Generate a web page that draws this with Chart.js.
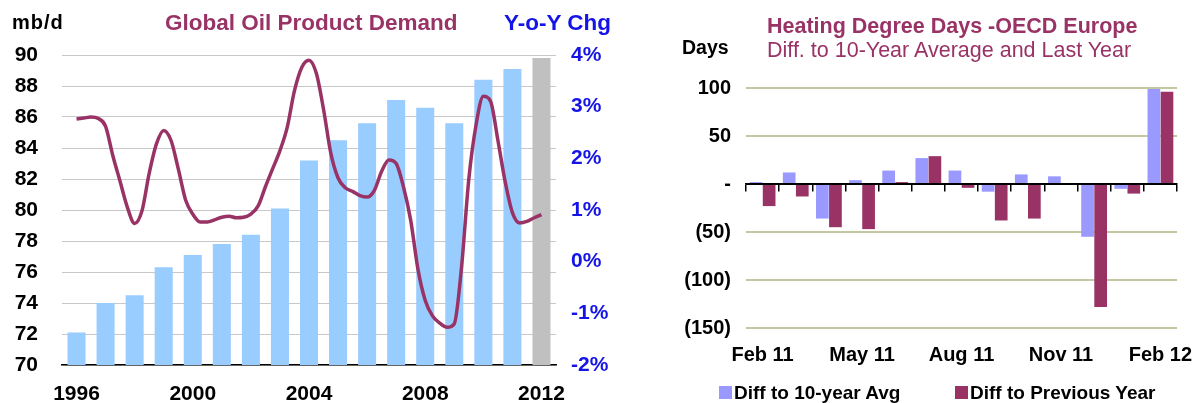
<!DOCTYPE html>
<html>
<head>
<meta charset="utf-8">
<script src="https://cdn.jsdelivr.net/npm/chart.js@4.4.0/dist/chart.umd.min.js"></script>
<style>
  body { margin:0; background:#fff; width:1195px; height:403px; overflow:hidden; position:relative;
         font-family:"Liberation Sans", Arial, sans-serif; }
  canvas { position:absolute; top:0; }
  #oil { left:0; }
  #hdd { left:640px; }
  .t { position:absolute; white-space:nowrap; font-weight:bold; line-height:1; }
  .box { position:absolute; width:13px; height:13px; }
</style>
</head>
<body>
<canvas id="oil" width="640" height="403"></canvas>
<canvas id="hdd" width="555" height="403"></canvas>

<div class="t" style="left:12px;top:12px;font-size:20px;letter-spacing:1px;color:#000">mb/d</div>
<div class="t" style="left:165px;top:12px;font-size:22.5px;color:#993366">Global Oil Product Demand</div>
<div class="t" style="left:504px;top:12px;font-size:22.5px;color:#1414e6">Y-o-Y Chg</div>

<div class="t" style="left:682px;top:38px;font-size:19.5px;color:#000">Days</div>
<div class="t" style="left:767px;top:16px;font-size:21.5px;color:#993366">Heating Degree Days -OECD Europe</div>
<div class="t" style="left:767px;top:40px;font-size:21.5px;font-weight:normal;color:#993366">Diff. to 10-Year Average and Last Year</div>

<div class="box" style="left:719px;top:386px;background:#9999ff"></div>
<div class="t" style="left:734px;top:383px;font-size:19px;color:#000">Diff to 10-year Avg</div>
<div class="box" style="left:955px;top:386px;background:#993366"></div>
<div class="t" style="left:970px;top:383px;font-size:19px;color:#000">Diff to Previous Year</div>

<script>
// global oil product demand, mb/d
const years = ['1996','1997','1998','1999','2000','2001','2002','2003','2004',
               '2005','2006','2007','2008','2009','2010','2011','2012'];
const demand = [72.1, 74.0, 74.5, 76.3, 77.1, 77.8, 78.4, 80.1, 83.2,
                84.5, 85.6, 87.1, 86.6, 85.6, 88.4, 89.1, 89.8];

// y-o-y change, % (quarterly, from 1996 Q1 to 2012 Q1)
const yoyStart = 1996;
const yoyChg = [
  2.76, 2.78, 2.80, 2.77,   // 1996
  2.62, 2.05, 1.55, 1.05,   // 1997
  0.74, 0.98, 1.71, 2.28,   // 1998
  2.54, 2.35, 1.80, 1.20,   // 1999
  0.92, 0.77, 0.77, 0.81,   // 2000
  0.86, 0.88, 0.85, 0.86,   // 2001
  0.92, 1.08, 1.45, 1.80,   // 2002
  2.15, 2.60, 3.31, 3.76,   // 2003
  3.90, 3.65, 2.95, 2.10,   // 2004
  1.62, 1.43, 1.36, 1.28,   // 2005
  1.25, 1.38, 1.75, 1.97,   // 2006
  1.90, 1.45, 0.80, -0.15,  // 2007
  -0.75, -1.05, -1.19, -1.27, // 2008
  -1.20, -0.10, 1.60, 2.65, // 2009
  3.20, 3.10, 2.35, 1.55,   // 2010
  0.95, 0.75, 0.78, 0.85,   // 2011
  0.91                      // 2012
];
const demandTicks = [1996, 2000, 2004, 2008, 2012];

// heating degree days, OECD Europe
const months = ['Feb 11','Mar 11','Apr 11','May 11','Jun 11','Jul 11','Aug 11',
                'Sep 11','Oct 11','Nov 11','Dec 11','Jan 12','Feb 12'];
const diffAvg  = [2, 12, -36, 4, 14, 27, 14, -8, 10, 8, -55, -5, 99];
const diffPrev = [-23, -13, -45, -47, 2, 29, -4, -38, -36, 0, -128, -10, 96];

const bold = size => ({ family: '"Liberation Sans", Arial, sans-serif', size: size, weight: 'bold' });

new Chart(document.getElementById('oil'), {
  data: {
    labels: years,
    datasets: [
      {
        type: 'line',
        xAxisID: 'xl',
        yAxisID: 'y1',
        data: yoyChg.map((v, i) => ({ x: yoyStart + i / 4, y: v })),
        borderColor: '#993366',
        borderWidth: 3.5,
        pointRadius: 0,
        cubicInterpolationMode: 'monotone',
        order: 0
      },
      {
        type: 'bar',
        xAxisID: 'x',
        yAxisID: 'y',
        data: demand,
        backgroundColor: ctx => ctx.dataIndex === years.length - 1 ? '#c0c0c0' : '#99ccff',
        grouped: false,
        barPercentage: 0.62,
        categoryPercentage: 1,
        order: 1
      }
    ]
  },
  options: {
    responsive: false,
    animation: false,
    layout: { padding: { top: 55, left: 0, right: 0, bottom: 0 } },
    plugins: { legend: { display: false }, tooltip: { enabled: false } },
    scales: {
      x: {
        type: 'category',
        offset: true,
        grid: { display: false, drawTicks: false },
        border: { display: true, color: '#000', width: 1.5 },
        ticks: {
          autoSkip: false, maxRotation: 0, padding: 17, color: '#000', font: bold(21),
          callback: (v, i) => demandTicks.includes(+years[i]) ? years[i] : ''
        },
        afterFit: s => { s.height = 38; }
      },
      xl: { type: 'linear', display: false, min: 1995.5, max: 2012.5 },
      y: {
        position: 'left',
        min: 70, max: 90,
        ticks: { stepSize: 2, padding: 24, color: '#000', font: bold(21) },
        grid: { color: '#c8c8c8', drawTicks: false },
        border: { display: false },
        afterFit: s => { s.width = 62; }
      },
      y1: {
        position: 'right',
        min: -2, max: 4,
        ticks: { stepSize: 1, padding: 15, color: '#1414e6', font: bold(21), callback: v => v + '%' },
        grid: { display: false, drawTicks: false },
        border: { display: false },
        afterFit: s => { s.width = 84; }
      }
    }
  }
});

new Chart(document.getElementById('hdd'), {
  type: 'bar',
  data: {
    labels: months,
    datasets: [
      { label: 'Diff to 10-year Avg', data: diffAvg, backgroundColor: '#9999ff',
        xAxisID: 'x', barPercentage: 0.97, categoryPercentage: 0.79 },
      { label: 'Diff to Previous Year', data: diffPrev, backgroundColor: '#993366',
        xAxisID: 'x', barPercentage: 0.97, categoryPercentage: 0.79 }
    ]
  },
  options: {
    responsive: false,
    animation: false,
    layout: { padding: { top: 88, left: 0, right: 18, bottom: 0 } },
    plugins: { legend: { display: false }, tooltip: { enabled: false } },
    scales: {
      x: {
        position: { y: 0 },
        offset: true,
        grid: { offset: true, drawOnChartArea: false, tickLength: 7, color: '#000', lineWidth: 1.5 },
        border: { color: '#000', width: 1.5 },
        ticks: { display: false }
      },
      xb: {
        type: 'category',
        position: 'bottom',
        offset: true,
        grid: { display: false, drawTicks: false },
        border: { display: false },
        ticks: {
          autoSkip: false, maxRotation: 0, padding: 15, color: '#000', font: bold(20),
          callback: (v, i) => i % 3 === 0 ? months[i] : ''
        },
        afterFit: s => { s.height = 75; s.paddingLeft = 0; s.paddingRight = 0; }
      },
      y: {
        min: -150, max: 100,
        ticks: {
          stepSize: 50, padding: 15, color: '#000', font: bold(20),
          callback: v => v === 0 ? '-' : v < 0 ? '(' + (-v) + ')' : v
        },
        grid: { color: ctx => ctx.tick.value === 0 ? '#000' : '#c3c8a0', lineWidth: 2, drawTicks: false },
        border: { display: false },
        afterFit: s => { s.width = 106; }
      }
    }
  }
});
</script>
</body>
</html>
